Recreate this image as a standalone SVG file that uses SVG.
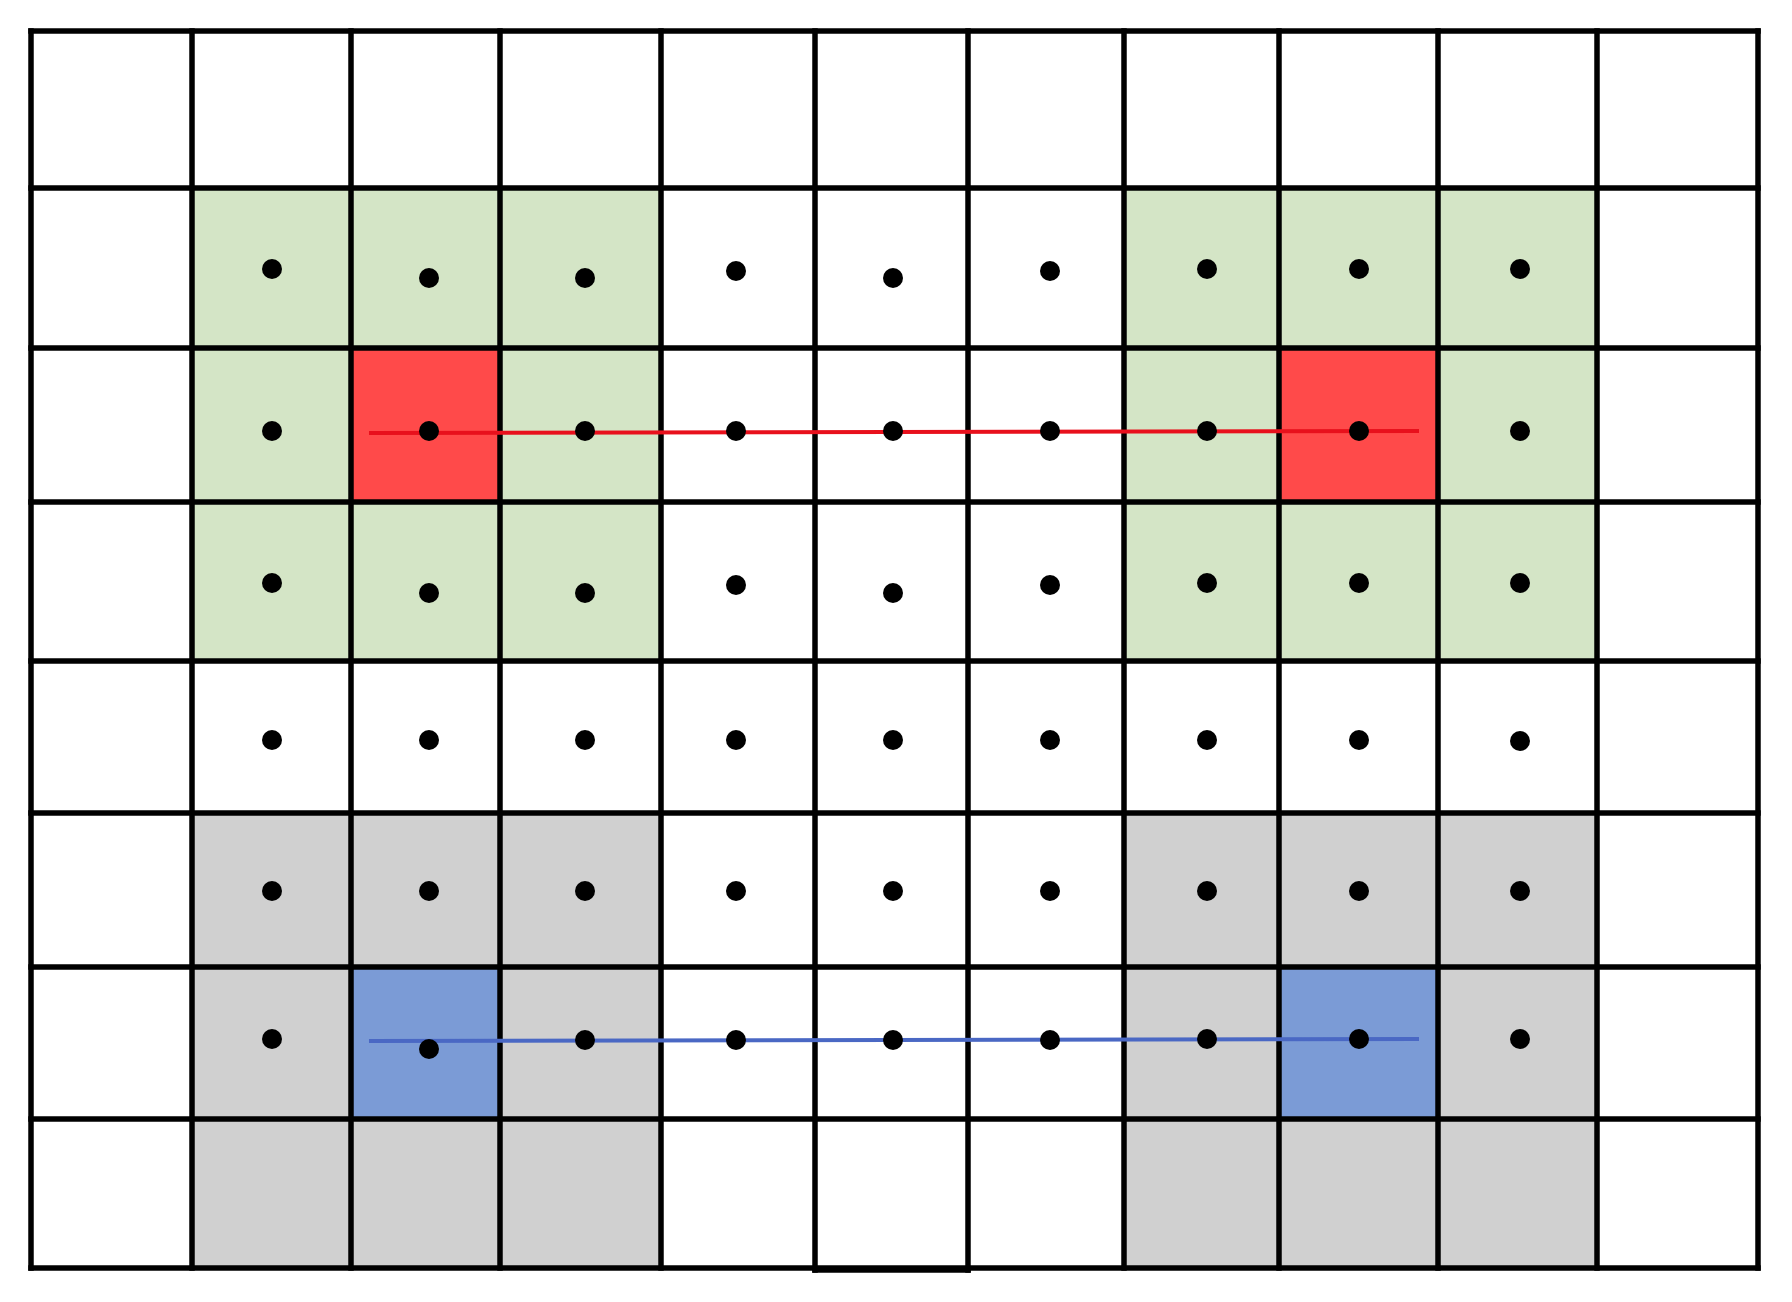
<svg xmlns="http://www.w3.org/2000/svg" width="1792" height="1302" viewBox="0 0 1792 1302">
<defs>
<style>
.g{fill:#D4E5C6}
.r{fill:#FF4A4A}
.k{fill:#D0D0D0}
.b{fill:#7B9BD6}
.grid line{stroke:#000;stroke-width:5.5;stroke-linecap:square}
.dot{fill:#000}
</style>
<circle id="d" r="10" class="dot"/>
</defs>
<rect x="0" y="0" width="1792" height="1302" fill="#fff"/>
<g id="fills">
<g id="green-left"><rect class="g" x="192" y="188" width="469" height="473"/><rect class="r" x="351" y="348" width="149" height="154"/></g>
<g id="green-right"><rect class="g" x="1124" y="188" width="473" height="473"/><rect class="r" x="1279" y="348" width="159" height="154"/></g>
<g id="grey-left"><rect class="k" x="192" y="813" width="469" height="455"/><rect class="b" x="351" y="967" width="149" height="152"/></g>
<g id="grey-right"><rect class="k" x="1124" y="813" width="473" height="455"/><rect class="b" x="1279" y="967" width="159" height="152"/></g>
</g>
<g id="grid" class="grid">
<line x1="31" y1="31" x2="1758" y2="31"/>
<line x1="31" y1="188" x2="1758" y2="188"/>
<line x1="31" y1="348" x2="1758" y2="348"/>
<line x1="31" y1="502" x2="1758" y2="502"/>
<line x1="31" y1="661" x2="1758" y2="661"/>
<line x1="31" y1="813" x2="1758" y2="813"/>
<line x1="31" y1="967" x2="1758" y2="967"/>
<line x1="31" y1="1119" x2="1758" y2="1119"/>
<line x1="31" y1="1268" x2="1758" y2="1268"/>
<line x1="31" y1="31" x2="31" y2="1268"/>
<line x1="192" y1="31" x2="192" y2="1268"/>
<line x1="351" y1="31" x2="351" y2="1268"/>
<line x1="500" y1="31" x2="500" y2="1268"/>
<line x1="661" y1="31" x2="661" y2="1268"/>
<line x1="815" y1="31" x2="815" y2="1270"/>
<line x1="968" y1="31" x2="968" y2="1270"/>
<line x1="1124" y1="31" x2="1124" y2="1268"/>
<line x1="1279" y1="31" x2="1279" y2="1268"/>
<line x1="1438" y1="31" x2="1438" y2="1268"/>
<line x1="1597" y1="31" x2="1597" y2="1268"/>
<line x1="1758" y1="31" x2="1758" y2="1268"/>
<line x1="815" y1="1270" x2="968" y2="1270"/>
</g>
<g id="connectors">
<line x1="369" y1="433" x2="1419" y2="431" stroke="#E8101C" stroke-width="4"/>
<line x1="369" y1="1041" x2="1419" y2="1039" stroke="#4A68C4" stroke-width="4"/>
</g>
<g id="dots">
<use href="#d" x="272" y="269"/><use href="#d" x="429" y="278"/><use href="#d" x="585" y="278"/><use href="#d" x="736" y="271"/><use href="#d" x="893" y="278"/><use href="#d" x="1050" y="271"/><use href="#d" x="1207" y="269"/><use href="#d" x="1359" y="269"/><use href="#d" x="1520" y="269"/>
<use href="#d" x="272" y="431"/><use href="#d" x="429" y="431"/><use href="#d" x="585" y="431"/><use href="#d" x="736" y="431"/><use href="#d" x="893" y="431"/><use href="#d" x="1050" y="431"/><use href="#d" x="1207" y="431"/><use href="#d" x="1359" y="431"/><use href="#d" x="1520" y="431"/>
<use href="#d" x="272" y="583"/><use href="#d" x="429" y="593"/><use href="#d" x="585" y="593"/><use href="#d" x="736" y="585"/><use href="#d" x="893" y="593"/><use href="#d" x="1050" y="585"/><use href="#d" x="1207" y="583"/><use href="#d" x="1359" y="583"/><use href="#d" x="1520" y="583"/>
<use href="#d" x="272" y="740"/><use href="#d" x="429" y="740"/><use href="#d" x="585" y="740"/><use href="#d" x="736" y="740"/><use href="#d" x="893" y="740"/><use href="#d" x="1050" y="740"/><use href="#d" x="1207" y="740"/><use href="#d" x="1359" y="740"/><use href="#d" x="1520" y="741"/>
<use href="#d" x="272" y="891"/><use href="#d" x="429" y="891"/><use href="#d" x="585" y="891"/><use href="#d" x="736" y="891"/><use href="#d" x="893" y="891"/><use href="#d" x="1050" y="891"/><use href="#d" x="1207" y="891"/><use href="#d" x="1359" y="891"/><use href="#d" x="1520" y="891"/>
<use href="#d" x="272" y="1039"/><use href="#d" x="429" y="1049"/><use href="#d" x="585" y="1040"/><use href="#d" x="736" y="1040"/><use href="#d" x="893" y="1040"/><use href="#d" x="1050" y="1040"/><use href="#d" x="1207" y="1039"/><use href="#d" x="1359" y="1039"/><use href="#d" x="1520" y="1039"/>
</g>
</svg>
